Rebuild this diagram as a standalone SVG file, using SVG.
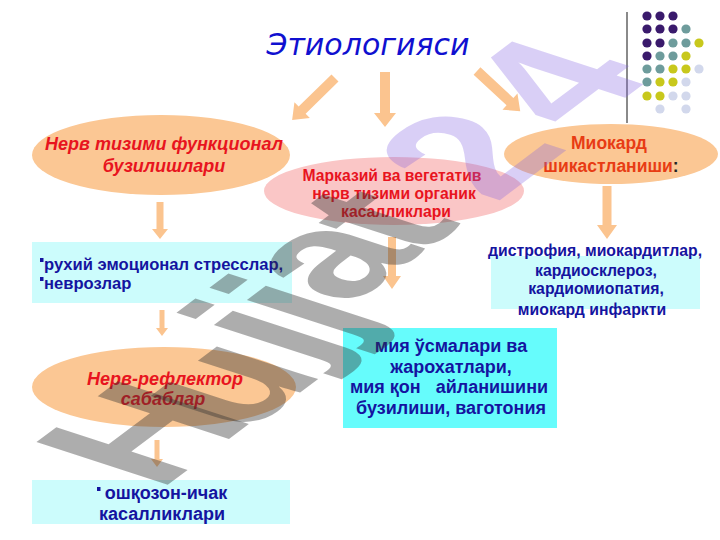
<svg xmlns="http://www.w3.org/2000/svg" width="720" height="540" viewBox="0 0 720 540">
<style>
.peach{fill:#fbc794}
.pink{fill:#fac6c6}
.lcyan{fill:#ccfcfc}
.cyan{fill:#66fcfc}
.arr{fill:#fbc48f}
.rt{font-family:"Liberation Sans",Arial,sans-serif;font-weight:bold;fill:#e8141e;text-anchor:middle}
.it{font-style:italic}
.bt{font-family:"Liberation Sans",Arial,sans-serif;font-weight:bold;fill:#1414a0;text-anchor:middle}
.bl{fill:#1414a0}
.pu{fill:#3a1a6c}.te{fill:#6e9c9c}.ye{fill:#c8c81c}.li{fill:#d2d8ec}
.wm{font-family:"Liberation Sans",Arial,sans-serif;font-weight:bold;font-size:115px}
.wg{fill:#333333;fill-opacity:0.4}
.wl{fill:#8060e0;fill-opacity:0.3}
</style>
<rect width="720" height="540" fill="#ffffff"/>
<g id="decor">
<line x1="627" y1="12" x2="627" y2="123" stroke="#8a8a8a" stroke-width="2"/>
<g>
<circle cx="647" cy="16" r="4.6" class="pu"/><circle cx="660" cy="16" r="4.6" class="pu"/><circle cx="673" cy="16" r="4.6" class="pu"/>
<circle cx="647" cy="29" r="4.6" class="pu"/><circle cx="660" cy="29" r="4.6" class="pu"/><circle cx="673" cy="29" r="4.6" class="pu"/><circle cx="686" cy="29" r="4.6" class="te"/>
<circle cx="647" cy="43" r="4.6" class="pu"/><circle cx="660" cy="43" r="4.6" class="pu"/><circle cx="673" cy="43" r="4.6" class="te"/><circle cx="686" cy="43" r="4.6" class="te"/><circle cx="699" cy="43" r="4.6" class="ye"/>
<circle cx="647" cy="56" r="4.6" class="pu"/><circle cx="660" cy="56" r="4.6" class="te"/><circle cx="673" cy="56" r="4.6" class="te"/><circle cx="686" cy="56" r="4.6" class="ye"/>
<circle cx="647" cy="69" r="4.6" class="te"/><circle cx="660" cy="69" r="4.6" class="te"/><circle cx="673" cy="69" r="4.6" class="ye"/><circle cx="686" cy="69" r="4.6" class="ye"/><circle cx="699" cy="69" r="4.6" class="li"/>
<circle cx="647" cy="82" r="4.6" class="te"/><circle cx="660" cy="82" r="4.6" class="ye"/><circle cx="673" cy="82" r="4.6" class="ye"/><circle cx="686" cy="82" r="4.6" class="li"/>
<circle cx="647" cy="96" r="4.6" class="ye"/><circle cx="660" cy="96" r="4.6" class="ye"/><circle cx="673" cy="96" r="4.6" class="li"/><circle cx="686" cy="96" r="4.6" class="li"/>
<circle cx="660" cy="109" r="4.6" class="li"/><circle cx="686" cy="109" r="4.6" class="li"/>
</g>
</g>
<g id="title">
<text x="368" y="55" font-family="'DejaVu Sans',Verdana,sans-serif" font-style="italic" font-size="30" fill="#1010d0" text-anchor="middle">Этиологияси</text>
</g>
<g id="connectors">
<polygon class="arr" transform="translate(335,78) rotate(135.6)" points="0,-5 46,-5 46,-11 60,0 46,11 46,5 0,5"/>
<polygon class="arr" transform="translate(385,72) rotate(90)" points="0,-5 41,-5 41,-11 55,0 41,11 41,5 0,5"/>
<polygon class="arr" transform="translate(477,71) rotate(42.9)" points="0,-5 45,-5 45,-11 59,0 45,11 45,5 0,5"/>
<polygon class="arr" points="156.5,202 163.5,202 163.5,229 168,229 160,239 152,229 156.5,229"/>
<polygon class="arr" points="159.5,310 164.5,310 164.5,328 168,328 162,336 156,328 159.5,328"/>
<polygon class="arr" points="154.5,440 159.5,440 159.5,459 163,459 157,467 151,459 154.5,459"/>
<polygon class="arr" points="388,237 396,237 396,276 401,276 392,289 383,276 388,276"/>
<polygon class="arr" points="602.5,186 611.5,186 611.5,225 617,225 607,239 597,225 602.5,225"/>
</g>
<g id="n1">
<ellipse class="peach" cx="161" cy="155" rx="129" ry="40"/>
<text class="rt it" font-size="18" x="164" y="150">Нерв тизими функционал</text>
<text class="rt it" font-size="18" x="164" y="172">бузилишлари</text>
</g>
<g id="n2">
<ellipse class="pink" cx="394" cy="191" rx="130" ry="34"/>
<text class="rt" font-size="15.7" x="392" y="181">Марказий ва вегетатив</text>
<text class="rt" font-size="15.7" x="394" y="199">нерв тизими органик</text>
<text class="rt" font-size="15.7" x="396" y="217">касалликлари</text>
</g>
<g id="n3">
<ellipse class="peach" cx="611" cy="154" rx="107" ry="30"/>
<text class="rt" font-size="17.5" x="609" y="149" style="fill:#e83c14">Миокард</text>
<text class="rt" font-size="17.5" x="611" y="172" style="fill:#e83c14">шикастланиши<tspan style="fill:#222222">:</tspan></text>
</g>
<g id="n4">
<rect class="lcyan" x="32" y="242" width="260" height="61"/>
<rect class="bl" x="40" y="258" width="3.5" height="4"/>
<text class="bt" font-size="16.6" x="44" y="270" style="text-anchor:start">рухий эмоционал стресслар,</text>
<rect class="bl" x="40" y="277" width="3.5" height="4"/>
<text class="bt" font-size="16.6" x="44" y="289" style="text-anchor:start">неврозлар</text>
</g>
<g id="n5">
<rect class="lcyan" x="491" y="256" width="209" height="53"/>
<text class="bt" font-size="15.8" x="595" y="256">дистрофия, миокардитлар,</text>
<text class="bt" font-size="15.8" x="596" y="276">кардиосклероз,</text>
<text class="bt" font-size="15.8" x="596" y="294">кардиомиопатия,</text>
<text class="bt" font-size="15.8" x="592" y="315">миокард инфаркти</text>
</g>
<g id="n6">
<rect class="cyan" x="343" y="328" width="214" height="100"/>
<text class="bt" font-size="18" x="451" y="352">мия ўсмалари ва</text>
<text class="bt" font-size="18" x="451" y="373">жарохатлари,</text>
<text class="bt" font-size="18" x="449" y="393" xml:space="preserve">мия қон   айланишини</text>
<text class="bt" font-size="18" x="451" y="414">бузилиши, ваготония</text>
</g>
<g id="n7">
<ellipse class="peach" cx="164" cy="387" rx="132" ry="40"/>
<text class="rt it" font-size="18" x="165" y="385">Нерв-рефлектор</text>
<text class="rt it" font-size="18" x="163" y="405">сабаблар</text>
</g>
<g id="n8">
<rect class="lcyan" x="32" y="480" width="258" height="44"/>
<rect class="bl" x="97" y="487" width="3.5" height="4"/>
<text class="bt" font-size="18" x="166" y="499">ошқозон-ичак</text>
<text class="bt" font-size="18" x="162" y="520">касалликлари</text>
</g>
<g id="watermark" class="wm">
<text class="wg" transform="matrix(1.2 -0.9 1.66 0.54 158.4 491.8)">H</text>
<text class="wg" transform="matrix(1.2 -0.9 1.66 0.54 243.1 435.3)">u</text>
<text class="wg" transform="matrix(1.2 -0.9 1.66 0.54 305 365)">j</text>
<text class="wg" transform="matrix(1.2 -0.9 1.66 0.54 338 340)">j</text>
<text class="wg" transform="matrix(1.2 -0.9 1.66 0.54 348.7 307)">a</text>
<text class="wg" transform="matrix(1.2 -0.9 1.66 0.54 417.7 257.1)">t</text>
<text class="wl" transform="matrix(1.2 -0.9 1.66 0.54 495 203.7)">2</text>
<text class="wl" transform="matrix(1.2 -0.9 1.66 0.54 580 131.7)">4</text>
</g>
</svg>
